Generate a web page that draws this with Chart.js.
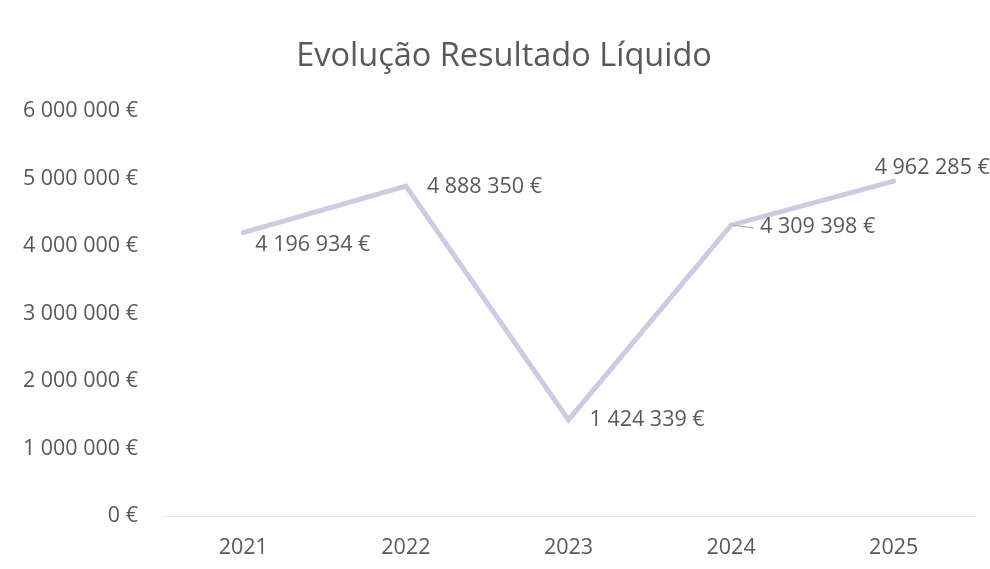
<!DOCTYPE html>
<html>
<head>
<meta charset="utf-8">
<script src="https://cdn.jsdelivr.net/npm/chart.js@4.4.1/dist/chart.umd.min.js"></script>
<style>
  html, body { margin: 0; padding: 0; background: #fff; }
  #wrap { width: 990px; height: 569px; position: relative; }
</style>
</head>
<body>
<div id="wrap"><canvas id="chart" width="990" height="569"></canvas></div>
<script>
// data
const years = ['2021', '2022', '2023', '2024', '2025'];
const netResult = [4196934, 4888350, 1424339, 4309398, 4962285];
const yTicks = [0, 1000000, 2000000, 3000000, 4000000, 5000000, 6000000];
const chartTitle = 'Evolução Resultado Líquido';

// where each value label sits relative to its point
const labelOffsets = [
    { dx: 12, dy: 12 },
    { dx: 21, dy: 1 },
    { dx: 21, dy: 0 },
    { dx: 29, dy: 2, leader: true },
    { dx: -19, dy: -13 }
];

const textColor = '#595959';
const fontFamily = '"Open Sans", "DejaVu Sans", sans-serif';
const fontSize = 21.5;

function euro(v) {
    return String(v).replace(/\B(?=(\d{3})+(?!\d))/g, ' ') + ' €';
}

// title is a bit right of the canvas centre in the original, so draw it by hand
const titleText = {
    id: 'titleText',
    afterDraw(chart) {
        const ctx = chart.ctx;
        ctx.save();
        ctx.font = '32.5px ' + fontFamily;
        ctx.fillStyle = textColor;
        ctx.textAlign = 'center';
        ctx.textBaseline = 'middle';
        ctx.fillText(chartTitle, 504, 57);
        ctx.restore();
    }
};

// simple value labels, no datalabels plugin available
const valueLabels = {
    id: 'valueLabels',
    afterDatasetsDraw(chart) {
        const ctx = chart.ctx;
        const meta = chart.getDatasetMeta(0);
        ctx.save();
        ctx.font = fontSize + 'px ' + fontFamily;
        ctx.fillStyle = textColor;
        ctx.textAlign = 'left';
        ctx.textBaseline = 'middle';
        meta.data.forEach((pt, i) => {
            const off = labelOffsets[i];
            const x = pt.x + off.dx;
            const y = pt.y + off.dy;
            if (off.leader) {
                ctx.strokeStyle = '#a6a6a6';
                ctx.lineWidth = 1;
                ctx.beginPath();
                ctx.moveTo(pt.x + 2, pt.y);
                ctx.lineTo(x - 6, y + 1);
                ctx.stroke();
            }
            ctx.fillText(euro(netResult[i]), x, y);
        });
        ctx.restore();
    }
};

new Chart(document.getElementById('chart'), {
    type: 'line',
    data: {
        labels: years,
        datasets: [{
            data: netResult,
            borderColor: '#cbcbe3',
            borderWidth: 5,
            pointRadius: 0,
            tension: 0,
            borderJoinStyle: 'miter',
            borderCapStyle: 'round'
        }]
    },
    options: {
        responsive: false,
        animation: false,
        layout: { padding: { left: 0, right: 15, top: 111, bottom: 0 } },
        plugins: {
            legend: { display: false },
            tooltip: { enabled: false },
            title: { display: false }
        },
        scales: {
            x: {
                offset: true,
                afterFit(scale) { scale.height = 53; },
                grid: { display: false, drawTicks: false },
                border: { color: '#e4e4ec', width: 1 },
                ticks: {
                    color: textColor,
                    font: { family: fontFamily, size: fontSize },
                    padding: 19
                }
            },
            y: {
                min: 0,
                max: 6000000,
                afterBuildTicks(scale) {
                    scale.ticks = yTicks.map(v => ({ value: v }));
                },
                afterFit(scale) { scale.width = 162; },
                grid: { display: false, drawTicks: false },
                border: { display: false },
                ticks: {
                    color: textColor,
                    font: { family: fontFamily, size: fontSize },
                    padding: 24,
                    callback: v => euro(v)
                }
            }
        }
    },
    plugins: [valueLabels, titleText]
});
</script>
</body>
</html>
